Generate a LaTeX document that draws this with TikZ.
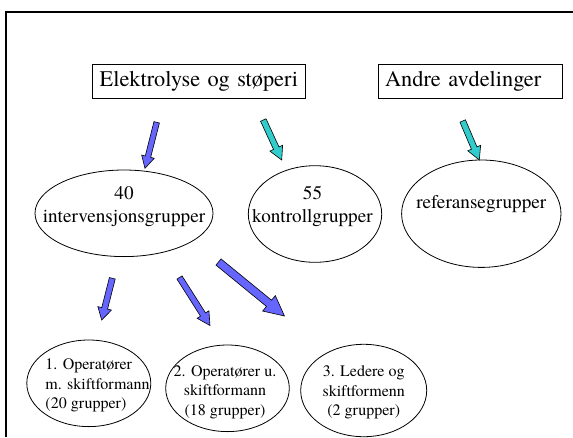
\documentclass[tikz,border=0pt]{standalone}
\usepackage{fontspec}
\IfFontExistsTF{texgyretermes-regular.otf}
  {\setmainfont{texgyretermes}[Extension=.otf,UprightFont=*-regular,
     BoldFont=*-bold,ItalicFont=*-italic,BoldItalicFont=*-bolditalic]}
  {\setmainfont{Liberation Serif}}
\usepackage{xcolor}
\usetikzlibrary{calc,positioning,shapes.geometric}

\definecolor{pilblaa}{RGB}{102,102,255}
\definecolor{pilturkis}{RGB}{51,204,204}

% 块状箭头: 颜色, 起点, 终点, 杆半宽, 头半宽, 头长
\newcommand{\blokkpil}[6]{%
  \filldraw[fill=#1,draw=black,line width=0.6pt]
    let \p1=(#2), \p2=(#3),
        \n1={atan2(\y2-\y1,\x2-\x1)},
        \n2={veclen(\x2-\x1,\y2-\y1)}
    in [shift={(\p1)},rotate=\n1]
    (0pt,-#4pt) -- ({\n2*1pt-#6pt},-#4pt) -- ({\n2*1pt-#6pt},-#5pt)
    -- ({\n2*1pt},0pt) -- ({\n2*1pt-#6pt},#5pt) -- ({\n2*1pt-#6pt},#4pt)
    -- (0pt,#4pt) -- cycle;}

\begin{document}
\begin{tikzpicture}[
        x=1pt, y=-1pt,
        avd/.style={draw,rectangle,line width=0.8pt,inner xsep=7pt,inner ysep=0pt,
            minimum height=34.4pt,align=left,font=\fontsize{22.3}{26}\selectfont},
        gruppe/.style={ellipse,draw,line width=0.8pt,inner sep=0pt},
        midtekst/.style={align=center,font=\fontsize{19.2}{23}\selectfont},
        smatekst/.style={align=center,font=\fontsize{16}{19.5}\selectfont}
    ]
        \useasboundingbox (0,0) rectangle (573,437);

        % 外框
        \draw[line width=1.6pt] (6,437) -- (6,11.7) -- (573,11.7);

        % 定义节点
        \node[avd,text width=199pt] (elek) at (199.2,81.5) {Elektrolyse og støperi};
        \node[avd,text width=170.4pt,right=71.6pt of elek] (andre) {Andre avdelinger};

        \node[gruppe,minimum width=178pt,minimum height=86.6pt,
            label={[midtekst,yshift=7pt]center:{40\\intervensjonsgrupper}}] (interv) at (124,213.3) {};
        \node[gruppe,minimum width=133.4pt,minimum height=96.6pt,
            label={[midtekst,xshift=-2.5pt,yshift=7.5pt]center:{55\\kontrollgrupper}}] (kontroll) at (315,214) {};
        \node[gruppe,minimum width=159.4pt,minimum height=107.4pt,
            label={[midtekst,yshift=9.7pt]center:{referansegrupper}}] (referanse) at (481.3,213.7) {};

        \node[gruppe,minimum width=124pt,minimum height=86.6pt,
            label={[smatekst,align=left,xshift=8.7pt,yshift=-2.5pt]center:{1. Operatører\\m. skiftformann\\(20 grupper)}}] (oper1) at (88.8,383.3) {};
        \node[gruppe,minimum width=123.6pt,minimum height=86.6pt,
            label={[smatekst,xshift=-2.5pt,yshift=-4pt]center:{2. Operatører u.\\skiftformann\\(18 grupper)}}] (oper2) at (227.5,388.3) {};
        \node[gruppe,minimum width=126pt,minimum height=92.4pt,
            label={[smatekst,yshift=-2pt]center:{3. Ledere og\\skiftformenn\\(2 grupper)}}] (ledere) at (363.7,390.5) {};

        % 箭头端点
        \coordinate (p1s) at (156.7,122.3); \coordinate (p1e) at (145,168.3);
        \coordinate (p2s) at (263.3,120);   \coordinate (p2e) at (281.7,160);
        \coordinate (p3s) at (462.7,121);   \coordinate (p3e) at (479.3,160);
        \coordinate (p4s) at (112.3,278.3); \coordinate (p4e) at (101.7,320);
        \coordinate (p5s) at (179.5,277.5); \coordinate (p5e) at (210,325.5);
        \coordinate (p6s) at (218.5,262);   \coordinate (p6e) at (284.5,316);

        % 连接箭头
        \blokkpil{pilblaa}{p1s}{p1e}{2.8}{6.5}{12}
        \blokkpil{pilturkis}{p2s}{p2e}{3}{7}{13}
        \blokkpil{pilturkis}{p3s}{p3e}{3}{7}{13}
        \blokkpil{pilblaa}{p4s}{p4e}{3}{7}{12}
        \blokkpil{pilblaa}{p5s}{p5e}{3}{7}{13}
        \blokkpil{pilblaa}{p6s}{p6e}{4}{10}{20}

    \end{tikzpicture}
\end{document}
